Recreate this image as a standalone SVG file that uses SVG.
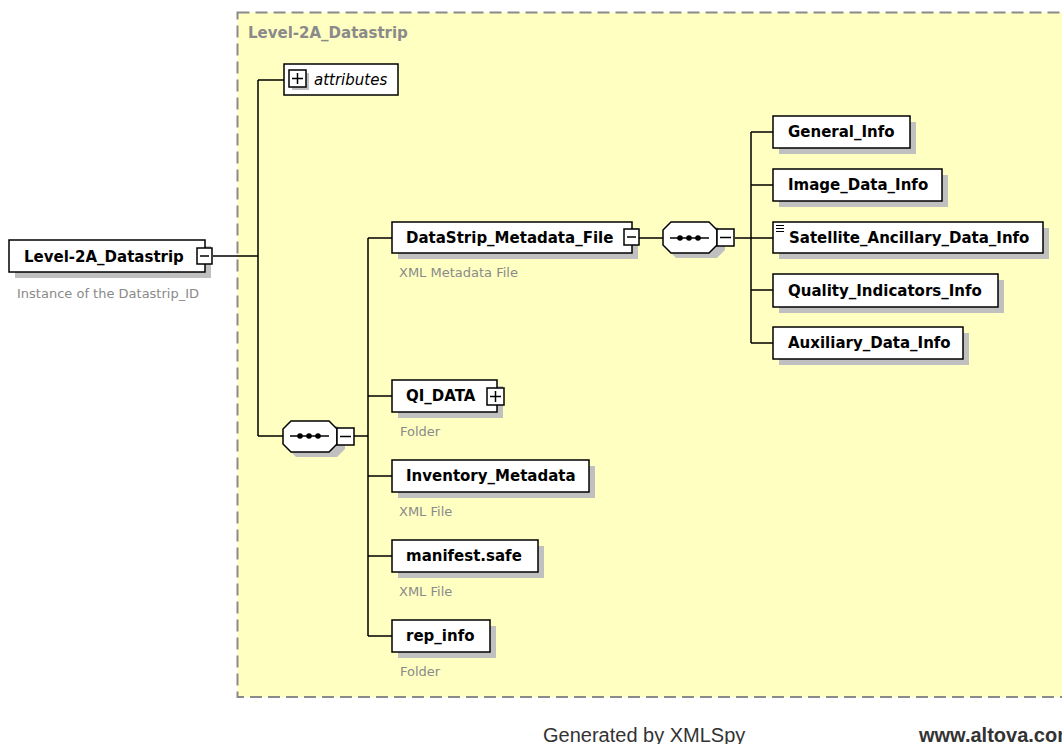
<svg xmlns="http://www.w3.org/2000/svg" width="1062" height="744" viewBox="0 0 1062 744">
<style>
.box{fill:#fff;stroke:#000;stroke-width:1.5}
.sh{fill:#c0c0c0}
.lbl{font-family:"DejaVu Sans",sans-serif;font-weight:bold;font-size:15px;fill:#000}
.sub{font-family:"DejaVu Sans",sans-serif;font-size:13px;fill:#8a8a8a}
.btn{fill:#fff;stroke:#000;stroke-width:1.5}
.ln{stroke:#000;stroke-width:1.5;fill:none}
.foot{font-family:"Liberation Sans",Arial,sans-serif;font-size:20px;fill:#333}
</style>
<rect x="0" y="0" width="1062" height="744" fill="#fff"/>
<rect id="frame" x="237.5" y="12.5" width="840" height="684.5" fill="#ffffc2" stroke="#8a8a8a" stroke-width="2" stroke-dasharray="12,6"/>
<text x="248" y="38" font-family="DejaVu Sans,sans-serif" font-weight="bold" font-size="15" fill="#8a8a8a">Level-2A_Datastrip</text>

<g id="connectors">
<path class="ln" d="M213,256 H258 M258,80 V436 M258,80 H284 M258,436 H283"/>
<path class="ln" d="M354,436 H368 M368,238 V636 M368,238 H392 M368,396 H392 M368,476 H392 M368,556 H392 M368,636 H392"/>
<path class="ln" d="M639,238 H663 M735,238 H751 M751,132 V343 M751,132 H773 M751,185 H773 M751,238 H773 M751,290 H773 M751,343 H773"/>
</g>

<g id="root">
<rect class="sh" x="15" y="246" width="196" height="32"/>
<rect class="box" x="9" y="240" width="196" height="32"/>
<text class="lbl" x="24" y="262">Level-2A_Datastrip</text>
<rect class="btn" x="197" y="248" width="15" height="16"/>
<path class="ln" d="M200,256 H209"/>
<text class="sub" x="17" y="298">Instance of the Datastrip_ID</text>
</g>

<g id="attributes">
<rect class="box" x="284" y="64" width="114" height="31"/>
<rect class="sh" x="292" y="73" width="17" height="17"/>
<rect class="btn" x="289" y="70" width="17" height="17"/>
<path class="ln" d="M292,78.5 H303 M297.5,73 V84"/>
<text x="314" y="85" font-family="DejaVu Sans,sans-serif" font-style="italic" font-size="15" fill="#000">attributes</text>
</g>

<g id="seq1">
<path class="sh" d="M296,426 H337 L345,434 V449 L337,457 H296 L288,449 V434 Z"/>
<path fill="#fff" stroke="#000" stroke-width="1.5" d="M291,421 H329 L337,429 V444 L329,452 H291 L283,444 V429 Z"/>
<path class="ln" d="M290,436 H329"/>
<circle cx="300" cy="436" r="2.8"/><circle cx="309" cy="436" r="2.8"/><circle cx="318" cy="436" r="2.8"/>
<rect class="btn" x="337" y="428" width="17" height="17"/>
<path class="ln" d="M340,436.5 H351"/>
</g>

<g id="datastrip_metadata_file">
<rect class="sh" x="398" y="228" width="240" height="31"/>
<rect class="box" x="392" y="222" width="240" height="31"/>
<text class="lbl" x="406" y="243">DataStrip_Metadata_File</text>
<rect class="btn" x="624" y="229" width="15" height="16"/>
<path class="ln" d="M627,237 H636"/>
<text class="sub" x="399" y="277">XML Metadata File</text>
</g>

<g id="seq2">
<path class="sh" d="M676,227 H717 L725,235 V250 L717,258 H676 L668,250 V235 Z"/>
<path fill="#fff" stroke="#000" stroke-width="1.5" d="M671,222 H709 L717,230 V245 L709,253 H671 L663,245 V230 Z"/>
<path class="ln" d="M670,238 H709"/>
<circle cx="680" cy="238" r="2.8"/><circle cx="689" cy="238" r="2.8"/><circle cx="698" cy="238" r="2.8"/>
<rect class="btn" x="717" y="229" width="17" height="17"/>
<path class="ln" d="M720,237.5 H731"/>
</g>

<g id="qi_data">
<rect class="sh" x="398" y="386" width="105" height="32"/>
<rect class="box" x="392" y="380" width="105" height="32"/>
<text class="lbl" x="406" y="401">QI_DATA</text>
<rect class="btn" x="487" y="388" width="17" height="17"/>
<path class="ln" d="M490,396.5 H501 M495.5,391 V402"/>
<text class="sub" x="400" y="436">Folder</text>
</g>

<g id="inventory_metadata">
<rect class="sh" x="398" y="466" width="197" height="32"/>
<rect class="box" x="392" y="460" width="197" height="32"/>
<text class="lbl" x="406" y="481">Inventory_Metadata</text>
<text class="sub" x="399" y="516">XML File</text>
</g>

<g id="manifest_safe">
<rect class="sh" x="398" y="546" width="146" height="32"/>
<rect class="box" x="392" y="540" width="146" height="32"/>
<text class="lbl" x="406" y="561">manifest.safe</text>
<text class="sub" x="399" y="596">XML File</text>
</g>

<g id="rep_info">
<rect class="sh" x="398" y="626" width="98" height="32"/>
<rect class="box" x="392" y="620" width="98" height="32"/>
<text class="lbl" x="406" y="641">rep_info</text>
<text class="sub" x="400" y="676">Folder</text>
</g>

<g id="general_info">
<rect class="sh" x="779" y="122" width="137" height="32"/>
<rect class="box" x="773" y="116" width="137" height="32"/>
<text class="lbl" x="788" y="137">General_Info</text>
</g>

<g id="image_data_info">
<rect class="sh" x="779" y="175" width="169" height="32"/>
<rect class="box" x="773" y="169" width="169" height="32"/>
<text class="lbl" x="788" y="190">Image_Data_Info</text>
</g>

<g id="satellite_ancillary_data_info">
<rect class="sh" x="779" y="228" width="270" height="31"/>
<rect class="box" x="773" y="222" width="270" height="31"/>
<path stroke="#000" stroke-width="1" d="M776,225.5 H784 M776,228.5 H784 M776,231.5 H784"/>
<text class="lbl" x="789" y="243">Satellite_Ancillary_Data_Info</text>
</g>

<g id="quality_indicators_info">
<rect class="sh" x="779" y="280" width="225" height="33"/>
<rect class="box" x="773" y="274" width="225" height="33"/>
<text class="lbl" x="788" y="296">Quality_Indicators_Info</text>
</g>

<g id="auxiliary_data_info">
<rect class="sh" x="779" y="333" width="190" height="32"/>
<rect class="box" x="773" y="327" width="190" height="32"/>
<text class="lbl" x="788" y="348">Auxiliary_Data_Info</text>
</g>

<text class="foot" x="543" y="742">Generated by XMLSpy</text>
<text class="foot" x="919" y="742" font-weight="bold">www.altova.com</text>
</svg>
